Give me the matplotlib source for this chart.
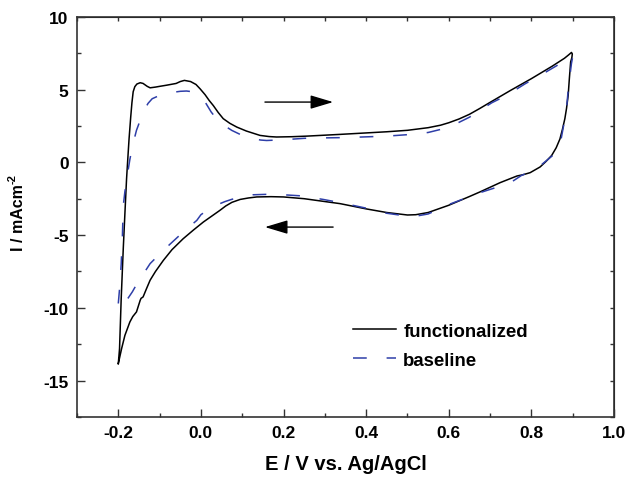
import matplotlib
matplotlib.use('Agg')
import matplotlib.pyplot as plt
import numpy as np

plt.rcParams['font.family'] = ['Liberation Sans', 'DejaVu Sans']
plt.rcParams['font.weight'] = 'bold'

# functionalized electrode, one closed cycle (forward then reverse scan)
func_E = [-0.200, -0.197, -0.193, -0.188, -0.184, -0.180, -0.177, -0.174, -0.170, -0.167,
          -0.164, -0.160, -0.155, -0.147, -0.140, -0.130, -0.123, -0.110, -0.100, -0.083,
          -0.060, -0.050, -0.040, -0.025, -0.012, -0.002, 0.010, 0.020, 0.030, 0.042,
          0.054, 0.070, 0.087, 0.110, 0.143, 0.165, 0.183, 0.220, 0.256, 0.337,
          0.400, 0.450, 0.500, 0.550, 0.580, 0.600, 0.625, 0.650, 0.675, 0.700,
          0.750, 0.800, 0.850, 0.880, 0.890, 0.897, 0.899,
          0.898, 0.895, 0.892, 0.889, 0.885, 0.881, 0.875, 0.869, 0.860, 0.849,
          0.835, 0.821, 0.797, 0.780, 0.765, 0.724, 0.675,
          0.650, 0.600, 0.550, 0.520, 0.500, 0.450, 0.400, 0.337, 0.296, 0.250,
          0.200, 0.170, 0.135, 0.115, 0.095, 0.075, 0.060, 0.046, 0.026, 0.006,
          -0.018, -0.043, -0.070, -0.091, -0.110, -0.123, -0.132, -0.140, -0.145, -0.147,
          -0.156, -0.165, -0.172, -0.184, -0.192, -0.200]
func_I = [-13.83, -12.80, -9.37, -5.93, -3.50, -1.13, 0.25, 1.60, 3.10, 4.10,
          4.85, 5.20, 5.38, 5.47, 5.42, 5.22, 5.12, 5.17, 5.22, 5.30,
          5.42, 5.55, 5.63, 5.55, 5.35, 5.05, 4.65, 4.25, 3.90, 3.42,
          3.00, 2.68, 2.42, 2.15, 1.85, 1.77, 1.74, 1.76, 1.80, 1.92,
          2.02, 2.10, 2.20, 2.38, 2.55, 2.72, 2.98, 3.30, 3.70, 4.12,
          4.95, 5.75, 6.60, 7.15, 7.38, 7.55, 7.45,
          7.20, 6.90, 5.80, 4.60, 3.70, 3.00, 2.25, 1.60, 1.00, 0.47,
          0.05, -0.32, -0.71, -0.85, -0.94, -1.40, -2.04,
          -2.35, -2.95, -3.45, -3.60, -3.62, -3.45, -3.20, -2.84, -2.68, -2.50,
          -2.38, -2.36, -2.38, -2.45, -2.55, -2.75, -3.00, -3.30, -3.70, -4.10,
          -4.65, -5.25, -6.00, -6.74, -7.50, -8.10, -8.70, -9.25, -9.35, -9.48,
          -10.28, -10.60, -10.97, -11.89, -12.80, -13.83]

# baseline electrode
base_E = [-0.200, -0.197, -0.193, -0.190, -0.188, -0.184, -0.180, -0.176, -0.172, -0.165,
          -0.156, -0.143, -0.135, -0.128, -0.118, -0.100, -0.081, -0.065, -0.050, -0.035,
          -0.026, -0.012, 0.000, 0.010, 0.025, 0.041, 0.058, 0.075, 0.100, 0.126,
          0.145, 0.159, 0.200, 0.250, 0.300, 0.350, 0.400, 0.450, 0.500, 0.550,
          0.600, 0.650, 0.704, 0.740, 0.785, 0.821, 0.869, 0.890, 0.900,
          0.899, 0.897, 0.893, 0.889, 0.885, 0.878, 0.869, 0.855, 0.837, 0.810,
          0.776, 0.752, 0.710, 0.675, 0.600, 0.550, 0.520, 0.500, 0.450, 0.400,
          0.337, 0.296, 0.240, 0.200, 0.160, 0.126, 0.100, 0.074, 0.058, 0.041,
          0.020, 0.000, -0.010, -0.043, -0.091, -0.123, -0.156, -0.166, -0.176, -0.190,
          -0.200]
base_I = [-9.70, -8.70, -7.00, -5.00, -3.00, -2.00, -1.30, -0.50, 0.20, 1.20,
          2.20, 3.20, 3.70, 4.05, 4.37, 4.60, 4.72, 4.82, 4.88, 4.90,
          4.87, 4.65, 4.40, 4.15, 3.45, 2.88, 2.50, 2.19, 1.85, 1.62,
          1.53, 1.50, 1.55, 1.65, 1.68, 1.70, 1.75, 1.80, 1.90, 2.05,
          2.40, 3.10, 4.09, 4.60, 5.40, 5.97, 6.77, 7.10, 7.30,
          7.10, 6.80, 5.90, 4.94, 3.68, 2.53, 1.16, 0.55, 0.13, -0.50,
          -0.90, -1.35, -1.77, -2.09, -2.90, -3.55, -3.70, -3.70, -3.50, -3.15,
          -2.77, -2.55, -2.30, -2.23, -2.20, -2.23, -2.35, -2.55, -2.70, -2.90,
          -3.20, -3.60, -3.99, -4.79, -6.05, -6.96, -8.40, -8.90, -9.32, -9.60,
          -9.70]

fig = plt.figure(figsize=(6.27, 4.81), dpi=100)
ax = fig.add_axes([0.1228, 0.131, 0.8565, 0.832])

ax.plot(func_E, func_I, color='black', lw=1.1, label='functionalized')
ax.plot(base_E, base_I, color='#2e3ea8', lw=1.1, dashes=(9, 13), label='baseline')

# scan direction arrows
arrow = dict(arrowstyle='-|>,head_length=1.0,head_width=0.3', color='black',
             lw=1.0, mutation_scale=14, shrinkA=0, shrinkB=0)
ax.annotate('', xy=(0.32, 4.14), xytext=(0.155, 4.14), arrowprops=arrow)
ax.annotate('', xy=(0.155, -4.45), xytext=(0.32, -4.45), arrowprops=arrow)

ax.set_xlim(-0.3, 1.0)
ax.set_ylim(-17.5, 10)
ax.set_xticks(np.arange(-0.2, 1.01, 0.2))
ax.set_xticks(np.arange(-0.3, 1.01, 0.1), minor=True)
ax.set_yticks(np.arange(-15, 10.1, 5))
ax.set_yticks(np.arange(-17.5, 10.1, 2.5), minor=True)
ax.set_xticklabels(['-0.2', '0.0', '0.2', '0.4', '0.6', '0.8', '1.0'])
ax.set_yticklabels(['-15', '-10', '-5', '0', '5', '10'])
ax.tick_params(which='major', direction='in', length=5.5, width=1, labelsize=12.5,
               color='#333333', pad=6)
ax.tick_params(which='minor', direction='in', length=3, width=1, color='#333333')

for s in ax.spines.values():
    s.set_linewidth(1.2)
    s.set_color('#333333')

# short ticks on the top and right frame
top = ax.secondary_xaxis('top')
top.set_xticks(np.arange(-0.3, 1.01, 0.1))
top.tick_params(direction='in', length=3, width=1, labeltop=False, color='#333333')
right = ax.secondary_yaxis('right')
right.set_yticks(np.arange(-17.5, 10.1, 2.5))
right.tick_params(direction='in', length=3, width=1, labelright=False, color='#333333')

ax.set_xlabel('E / V vs. Ag/AgCl', fontsize=14.5, fontweight='bold', labelpad=10)
ylab = ax.set_ylabel('I / mAcm', fontsize=11.5, fontweight='bold')
ax.yaxis.set_label_coords(-0.095, 0.50)
ax.annotate('-2', xy=(0, 1), xycoords=ylab, xytext=(-2.5, 0.5),
            textcoords='offset points', rotation=90, fontsize=8,
            fontweight='bold', ha='left', va='bottom')

ax.legend(loc='upper left', bbox_to_anchor=(0.514, 0.235), frameon=False,
          fontsize=13.4, handlelength=2.3, handletextpad=0.4, labelspacing=0.62,
          borderpad=0, borderaxespad=0)

fig.savefig('out.png', dpi=100)
